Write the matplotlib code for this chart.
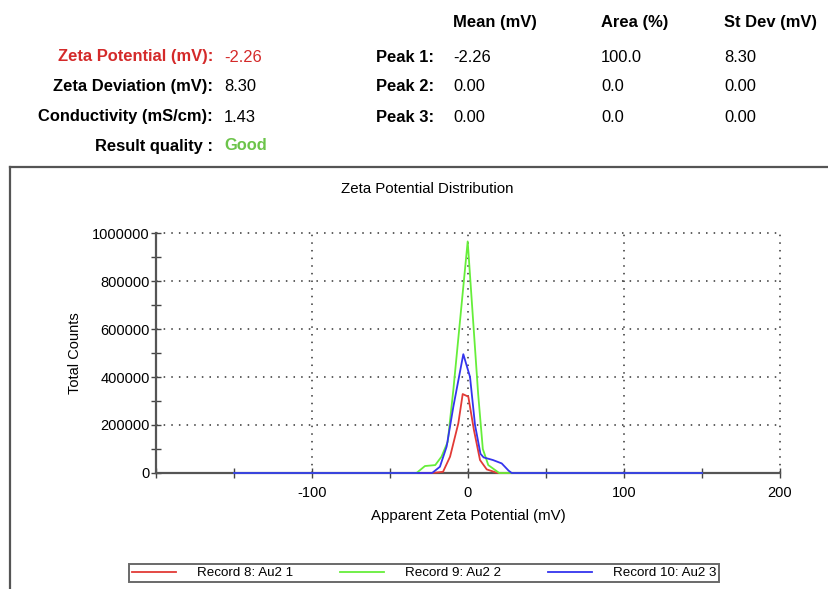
import matplotlib
matplotlib.use("Agg")
import matplotlib.pyplot as plt
from matplotlib.lines import Line2D
from matplotlib.ticker import MultipleLocator, FixedLocator

plt.rcParams['font.family'] = ['Liberation Sans', 'DejaVu Sans']

# ---------------- data ----------------
red_x = [-150, -23, -16, -11.5, -6.2, -3.4, 0.2, 3.8, 7.7, 12, 19, 150]
red_y = [0, 0, 5000, 68000, 207000, 329000, 318000, 179000, 54000, 15000, 0, 0]

green_x = [-150, -33, -27.6, -21, -17, -13, -9.4, -0.2, 6.5, 9.5, 13, 20, 150]
green_y = [0, 0, 29000, 33000, 68000, 130000, 346000, 965000, 330000, 100000, 33000, 0, 0]

blue_x = [-150, -23, -18, -13.7, -9.4, -3, 1.3, 4.5, 8, 10, 16, 21.6, 26, 28, 150]
blue_y = [0, 0, 26000, 110000, 276000, 495000, 400000, 200000, 80000, 65000, 54000, 40000, 10000, 0, 0]

series_labels = ["Record 8: Au2 1", "Record 9: Au2 2", "Record 10: Au2 3"]
series_colors = ["#e23a36", "#66ee3a", "#3434ee"]

x_ticks = [-100, 0, 100, 200]
y_ticks = [0, 200000, 400000, 600000, 800000, 1000000]

summary_labels = ["Zeta Potential (mV):", "Zeta Deviation (mV):", "Conductivity (mS/cm):", "Result quality :"]
summary_values = ["-2.26", "8.30", "1.43", "Good"]
peak_headers = ["Mean (mV)", "Area (%)", "St Dev (mV)"]
peak_labels = ["Peak 1:", "Peak 2:", "Peak 3:"]
peak_mean = ["-2.26", "0.00", "0.00"]
peak_area = ["100.0", "0.0", "0.0"]
peak_sd = ["8.30", "0.00", "0.00"]

# ---------------- figure ----------------
W, H = 829, 589
fig = plt.figure(figsize=(W / 100, H / 100), dpi=100)


def fx(px):
    return px / W


def fy(py):
    return 1 - py / H


fs = 11.9
# header summary
row_y = [57, 87, 117, 146]
for i, (lab, val) in enumerate(zip(summary_labels, summary_values)):
    col = "#d42a2a" if i == 0 else "black"
    vcol = "#d42a2a" if i == 0 else ("#6cc44a" if i == 3 else "black")
    fig.text(fx(213), fy(row_y[i]), lab, ha="right", va="center", fontsize=fs,
             fontweight="bold", color=col)
    fig.text(fx(224), fy(row_y[i]), val, ha="left", va="center", fontsize=fs,
             color=vcol, fontweight="bold" if i == 3 else "normal")

hdr_x = [453, 601, 724]
for hx, h in zip(hdr_x, peak_headers):
    fig.text(fx(hx), fy(22), h, ha="left", va="center", fontsize=fs, fontweight="bold")
for i, pl in enumerate(peak_labels):
    fig.text(fx(434), fy(row_y[i]), pl, ha="right", va="center", fontsize=fs, fontweight="bold")
    fig.text(fx(453), fy(row_y[i]), peak_mean[i], ha="left", va="center", fontsize=fs)
    fig.text(fx(601), fy(row_y[i]), peak_area[i], ha="left", va="center", fontsize=fs)
    fig.text(fx(724), fy(row_y[i]), peak_sd[i], ha="left", va="center", fontsize=fs)

# panel frame
fig.add_artist(Line2D([fx(10), fx(829)], [fy(167), fy(167)], color="#555555", lw=1.6,
                      transform=fig.transFigure))
fig.add_artist(Line2D([fx(10), fx(10)], [fy(167), fy(589)], color="#555555", lw=1.6,
                      transform=fig.transFigure))

fig.text(fx(427), fy(189), "Zeta Potential Distribution", ha="center", va="center", fontsize=10.8)

# axes
ax = fig.add_axes([fx(156), fy(473), fx(780) - fx(156), (473 - 233) / H])
handles = []
for xs, ys, c, lab in [(red_x, red_y, series_colors[0], series_labels[0]),
                       (green_x, green_y, series_colors[1], series_labels[1]),
                       (blue_x, blue_y, series_colors[2], series_labels[2])]:
    h, = ax.plot(xs, ys, color=c, lw=1.3, label=lab, clip_on=False, zorder=3)
    handles.append(h)

ax.set_xlim(-200, 200)
ax.set_ylim(0, 1000000)
ax.xaxis.set_major_locator(FixedLocator(x_ticks))
ax.xaxis.set_minor_locator(FixedLocator([-200, -150, -50, 50, 150]))
ax.yaxis.set_major_locator(FixedLocator(y_ticks))
ax.yaxis.set_minor_locator(MultipleLocator(100000))
ax.set_xticklabels([str(t) for t in x_ticks])
ax.set_yticklabels([str(t) for t in y_ticks])

for s in ["top", "right"]:
    ax.spines[s].set_visible(False)
for s in ["left", "bottom"]:
    ax.spines[s].set_color("#555555")
    ax.spines[s].set_linewidth(1.6)
    ax.spines[s].set_zorder(2)

ax.tick_params(which="both", direction="inout", color="#444444", width=1.0)
ax.tick_params(which="major", length=7, labelsize=10.5)
ax.tick_params(axis="y", which="major", pad=1)
ax.tick_params(axis="x", which="major", pad=6)
ax.tick_params(which="minor", length=7)
ax.grid(True, which="major", linestyle=(0, (1, 4)), color="#333333", lw=1.1)
for gl in ax.get_xgridlines() + ax.get_ygridlines():
    gl.set_clip_on(False)

ax.set_xlabel("Apparent Zeta Potential (mV)", fontsize=10.8, labelpad=6)
ax.set_ylabel("Total Counts", fontsize=10.5, labelpad=7)

leg = fig.legend(handles=handles, labels=series_labels, ncol=3,
                 loc="center", bbox_to_anchor=(fx(424), fy(573)),
                 fontsize=9.6, frameon=True, fancybox=False, edgecolor="#444444",
                 handlelength=3.3, handletextpad=1.6, columnspacing=3.5,
                 borderpad=0.2, borderaxespad=0)
leg.get_frame().set_linewidth(1.4)

fig.savefig("out.png", dpi=100)
